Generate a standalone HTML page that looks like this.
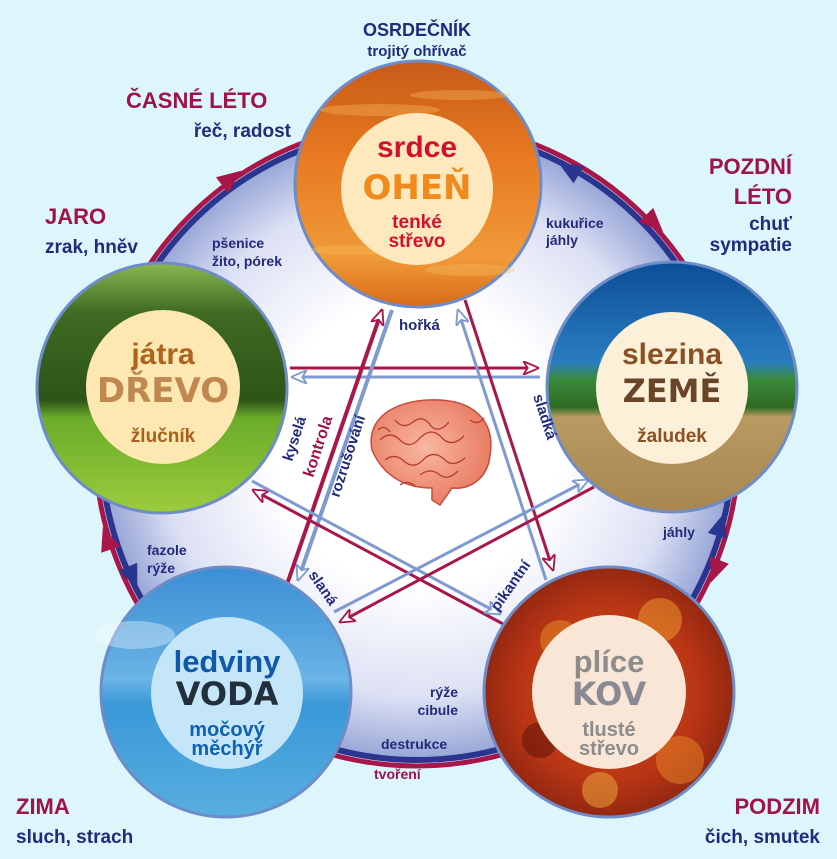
<!DOCTYPE html>
<html><head><meta charset="utf-8"><style>
html,body{margin:0;padding:0;background:#dcf6fc;}
svg{display:block;font-family:"Liberation Sans",sans-serif;font-weight:bold;}
</style></head><body>
<svg width="837" height="859" viewBox="0 0 837 859" xmlns="http://www.w3.org/2000/svg">
<defs>
<radialGradient id="disc" cx="0.5" cy="0.5" r="0.5">
<stop offset="0.45" stop-color="#ffffff"/><stop offset="0.8" stop-color="#dce0f4"/><stop offset="1" stop-color="#95a4d6"/>
</radialGradient>
<linearGradient id="fire" x1="0" y1="0" x2="0" y2="1">
<stop offset="0" stop-color="#c85a18"/><stop offset="0.4" stop-color="#e87a22"/><stop offset="0.8" stop-color="#f09a38"/><stop offset="1" stop-color="#d86a18"/>
</linearGradient>
<linearGradient id="wood" x1="0" y1="0" x2="0" y2="1">
<stop offset="0" stop-color="#8ab850"/><stop offset="0.2" stop-color="#3e6a22"/><stop offset="0.55" stop-color="#2e5418"/><stop offset="0.62" stop-color="#6aac2a"/><stop offset="1" stop-color="#9ccc3c"/>
</linearGradient>
<linearGradient id="earth" x1="0" y1="0" x2="0" y2="1">
<stop offset="0" stop-color="#0c4e96"/><stop offset="0.4" stop-color="#2a7cc0"/><stop offset="0.47" stop-color="#3a8a3a"/><stop offset="0.58" stop-color="#2e6a22"/><stop offset="0.62" stop-color="#b89a62"/><stop offset="1" stop-color="#a88650"/>
</linearGradient>
<linearGradient id="water" x1="0" y1="0" x2="0" y2="1">
<stop offset="0" stop-color="#3a8ed4"/><stop offset="0.45" stop-color="#6ab4e6"/><stop offset="0.55" stop-color="#3a98d8"/><stop offset="1" stop-color="#58aee0"/>
</linearGradient>
<radialGradient id="metal" cx="0.5" cy="0.5" r="0.6">
<stop offset="0" stop-color="#d85a20"/><stop offset="0.6" stop-color="#b83414"/><stop offset="1" stop-color="#7a2010"/>
</radialGradient>
<radialGradient id="brain" cx="0.45" cy="0.45" r="0.6">
<stop offset="0" stop-color="#f8b8a0"/><stop offset="1" stop-color="#e87860"/>
</radialGradient>
<marker id="mr" viewBox="0 0 14 12" refX="13" refY="6" markerWidth="16" markerHeight="14" markerUnits="userSpaceOnUse" orient="auto">
<path d="M0,0 L14,6 L0,12 L4,6 z" fill="#fff" stroke="#a8164a" stroke-width="1.6"/></marker>
<marker id="mb" viewBox="0 0 14 12" refX="13" refY="6" markerWidth="16" markerHeight="14" markerUnits="userSpaceOnUse" orient="auto">
<path d="M0,0 L14,6 L0,12 L4,6 z" fill="#fff" stroke="#7e9ad0" stroke-width="1.6"/></marker>
</defs>

<circle cx="417" cy="444" r="318" fill="url(#disc)"/>
<circle cx="417" cy="444" r="322" fill="none" stroke="#a8164a" stroke-width="5"/>
<circle cx="417" cy="444" r="316" fill="none" stroke="#2a3590" stroke-width="6"/>
<g id="heads"></g>

<g stroke-width="4" fill="none">
<line x1="290" y1="368" x2="538" y2="368" stroke="#a8164a" stroke-width="3" marker-end="url(#mr)"/>
<line x1="540" y1="377" x2="292" y2="377" stroke="#7e9ad0" stroke-width="3" marker-end="url(#mb)"/>
<line x1="285" y1="590" x2="382" y2="310" stroke="#a8164a" marker-end="url(#mr)"/>
<line x1="392" y1="310" x2="298" y2="580" stroke="#7e9ad0" marker-end="url(#mb)"/>
<line x1="465" y1="300" x2="553" y2="570" stroke="#a8164a" stroke-width="3" marker-end="url(#mr)"/>
<line x1="546" y1="580" x2="458" y2="310" stroke="#7e9ad0" stroke-width="3" marker-end="url(#mb)"/>
<line x1="505" y1="625" x2="253" y2="490" stroke="#a8164a" stroke-width="3" marker-end="url(#mr)"/>
<line x1="252" y1="481" x2="500" y2="614" stroke="#7e9ad0" stroke-width="3" marker-end="url(#mb)"/>
<line x1="594" y1="487" x2="340" y2="622" stroke="#a8164a" stroke-width="3" marker-end="url(#mr)"/>
<line x1="334" y1="612" x2="588" y2="480" stroke="#7e9ad0" stroke-width="3" marker-end="url(#mb)"/>
</g>

<g>
<path d="M372,450 C365,415 400,398 440,400 C478,402 495,425 490,455 C488,478 470,490 452,488 L440,505 L432,500 L432,488 C410,488 385,480 372,450 z" fill="url(#brain)" stroke="#c84a3a" stroke-width="1.5"/>
<path d="M380,440 q10,-10 20,0 q10,10 20,-2 q12,-12 22,0 q10,10 22,-2 M385,460 q10,-8 20,2 q10,8 20,-4 q10,-8 20,2 q8,8 20,-2 M395,420 q8,10 18,2 q10,-8 18,4 q8,8 18,-4 M420,475 q10,-8 20,0 q8,6 18,-4 M378,430 q6,-6 12,2 M470,420 q8,6 14,-2 M400,485 q8,-6 16,2" stroke="#b83a30" stroke-width="1.3" fill="none"/>
</g>

<g stroke="#6e8cc8" stroke-width="3">
<circle cx="418" cy="184" r="123" fill="url(#fire)"/>
<circle cx="162" cy="388" r="125" fill="url(#wood)"/>
<circle cx="672" cy="387" r="125" fill="url(#earth)"/>
<circle cx="226" cy="692" r="125" fill="url(#water)"/>
<circle cx="609" cy="692" r="125" fill="url(#metal)"/>
</g>
<g opacity="0.35" fill="#f8c060">
<ellipse cx="380" cy="110" rx="60" ry="6"/><ellipse cx="460" cy="95" rx="50" ry="5"/><ellipse cx="350" cy="250" rx="40" ry="5"/><ellipse cx="470" cy="270" rx="45" ry="6"/>
</g>
<g opacity="0.5">
<circle cx="560" cy="640" r="20" fill="#e8902a"/><circle cx="660" cy="620" r="22" fill="#f0a030"/><circle cx="540" cy="740" r="18" fill="#5a1008"/><circle cx="680" cy="760" r="24" fill="#e88a28"/><circle cx="600" cy="790" r="18" fill="#f0b040"/>
</g>
<ellipse cx="135" cy="635" rx="40" ry="14" fill="#fff" opacity="0.35"/>

<circle cx="417" cy="189" r="76" fill="#fde9bd"/>
<circle cx="163" cy="387" r="77" fill="#fde8b2"/>
<circle cx="672" cy="388" r="76" fill="#fdf0d8"/>
<circle cx="227" cy="693" r="76" fill="#c4e6f8"/>
<circle cx="609" cy="692" r="77" fill="#f9e6d6"/>

<g text-anchor="middle">
<text x="417" y="157" font-size="30" fill="#d5102c">srdce</text>
<text x="417" y="199" font-size="34" fill="#f08a1a" font-family="DejaVu Sans" font-weight="900">OHEŇ</text>
<text x="417" y="228" font-size="19" fill="#d5102c">tenké</text>
<text x="417" y="247" font-size="19" fill="#d5102c">střevo</text>

<text x="163" y="364" font-size="30" fill="#b0621c">játra</text>
<text x="163" y="402" font-size="34" fill="#c08850" font-family="DejaVu Sans" font-weight="900">DŘEVO</text>
<text x="163" y="442" font-size="19" fill="#a8601c">žlučník</text>

<text x="672" y="364" font-size="30" fill="#8a5224">slezina</text>
<text x="672" y="402" font-size="32" fill="#6a4428" font-family="DejaVu Sans" font-weight="900">ZEMĚ</text>
<text x="672" y="442" font-size="19" fill="#8a5224">žaludek</text>

<text x="227" y="672" font-size="31" fill="#1058a8">ledviny</text>
<text x="227" y="705" font-size="32" fill="#22303e" font-family="DejaVu Sans" font-weight="900">VODA</text>
<text x="227" y="736" font-size="20" fill="#1062b0">močový</text>
<text x="227" y="755" font-size="20" fill="#1062b0">měchýř</text>

<text x="609" y="672" font-size="31" fill="#8c8c8c">plíce</text>
<text x="609" y="705" font-size="32" fill="#8a8a94" font-family="DejaVu Sans" font-weight="900">KOV</text>
<text x="609" y="736" font-size="20" fill="#8c8c8c">tlusté</text>
<text x="609" y="755" font-size="20" fill="#8c8c8c">střevo</text>

<text x="417" y="36" font-size="18" fill="#222a7c">OSRDEČNÍK</text>
<text x="417" y="56" font-size="15" fill="#222a7c">trojitý ohřívač</text>
</g>

<g font-size="22" fill="#a0124a">
<text x="126" y="108">ČASNÉ LÉTO</text>
<text x="45" y="224">JARO</text>
<text x="792" y="174" text-anchor="end">POZDNÍ</text>
<text x="792" y="204" text-anchor="end">LÉTO</text>
<text x="16" y="814">ZIMA</text>
<text x="820" y="814" text-anchor="end">PODZIM</text>
</g>
<g font-size="19" fill="#222a7c">
<text x="291" y="137" text-anchor="end">řeč, radost</text>
<text x="45" y="253">zrak, hněv</text>
<text x="792" y="230" text-anchor="end">chuť</text>
<text x="792" y="251" text-anchor="end">sympatie</text>
<text x="16" y="843">sluch, strach</text>
<text x="820" y="843" text-anchor="end">čich, smutek</text>
</g>
<g font-size="14" fill="#222a7c">
<text x="212" y="248">pšenice</text>
<text x="212" y="266">žito, pórek</text>
<text x="546" y="228">kukuřice</text>
<text x="546" y="245">jáhly</text>
<text x="147" y="555">fazole</text>
<text x="147" y="573">rýže</text>
<text x="663" y="537">jáhly</text>
<text x="458" y="697" text-anchor="end">rýže</text>
<text x="458" y="715" text-anchor="end">cibule</text>
<text x="381" y="749">destrukce</text>
<text x="374" y="779" fill="#a0124a">tvoření</text>
<text x="399" y="330" font-size="15">hořká</text>
<text transform="translate(292,462) rotate(-72)" font-size="15">kyselá</text>
<text transform="translate(313,478) rotate(-72)" font-size="16" fill="#a0124a">kontrola</text>
<text transform="translate(339,498) rotate(-72)" font-size="15">rozrušování</text>
<text transform="translate(533,396) rotate(72)" font-size="15">sladká</text>
<text transform="translate(308,575) rotate(55)" font-size="15">slaná</text>
<text transform="translate(498,612) rotate(-55)" font-size="15">pikantní</text>
</g>
<script>
(function(){
var cx=417,cy=444,g=document.getElementById('heads'),ns='http://www.w3.org/2000/svg';
function head(r,a,dir,col){var t=a*Math.PI/180,x=cx+r*Math.cos(t),y=cy+r*Math.sin(t);
var tx=-Math.sin(t)*dir,ty=Math.cos(t)*dir,nx=Math.cos(t),ny=Math.sin(t),L=24,W=10;
var p=[[x+tx*L,y+ty*L],[x+nx*W,y+ny*W],[x-nx*W,y-ny*W]];
var e=document.createElementNS(ns,'polygon');e.setAttribute('points',p.map(function(q){return q.join(',')}).join(' '));e.setAttribute('fill',col);g.appendChild(e);}
var gaps=[[-64,-38],[12,28],[66,113],[152,168],[207,240]];
gaps.forEach(function(gp){head(324,gp[1]-7,1,'#a8164a');head(314,gp[0]+5,-1,'#2a3590');});
})();
</script>
</svg>
</body></html>
